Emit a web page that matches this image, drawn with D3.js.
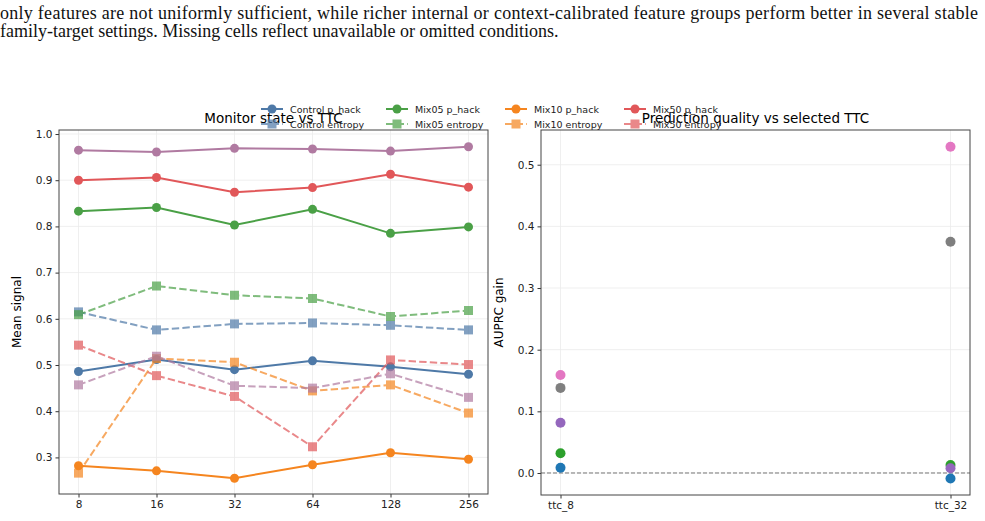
<!DOCTYPE html>
<html>
<head>
<meta charset="utf-8">
<script src="https://cdn.jsdelivr.net/npm/d3@7"></script>
<style>
  body { margin: 0; background: #fff; }
  svg text { font-family: "DejaVu Sans", sans-serif; }
  .caption { font-family: "Liberation Serif", "Times New Roman", serif !important; font-size: 18px; fill: #111; }
  .grid line { stroke: #ebebeb; stroke-width: 0.8; }
  .axis text { font-size: 10.5px; fill: #222; }
  .axis path, .axis line { stroke: #333; }
</style>
</head>
<body>
<div id="chart"></div>
<script>
// ---- data ----
var ttcValues = [8, 16, 32, 64, 128, 256];

var controlPhack  = [0.486, 0.512, 0.490, 0.509, 0.496, 0.480];
var controlEntropy = [0.615, 0.576, 0.589, 0.591, 0.586, 0.576];
var mix05Phack    = [0.833, 0.841, 0.803, 0.837, 0.785, 0.799];
var mix05Entropy  = [0.609, 0.671, 0.651, 0.644, 0.605, 0.618];
var mix10Phack    = [0.282, 0.271, 0.255, 0.284, 0.310, 0.296];
var mix10Entropy  = [0.266, 0.514, 0.506, 0.444, 0.457, 0.396];
var mix50Phack    = [0.900, 0.906, 0.874, 0.884, 0.913, 0.885];
var mix50Entropy  = [0.543, 0.477, 0.432, 0.323, 0.511, 0.501];
var otherPhack    = [0.965, 0.961, 0.969, 0.9675, 0.963, 0.9725];
var otherEntropy  = [0.457, 0.519, 0.455, 0.450, 0.481, 0.430];

var ttcCategories = ["ttc_8", "ttc_32"];
var gainBlue   = [0.0086, -0.009];
var gainGreen  = [0.032, 0.013];
var gainPurple = [0.0815, 0.0076];
var gainGray   = [0.138, 0.375];
var gainPink   = [0.159, 0.529];

var leftTicks = [0.3, 0.4, 0.5, 0.6, 0.7, 0.8, 0.9, 1.0];
var rightTicks = [0.0, 0.1, 0.2, 0.3, 0.4, 0.5];

var captionLines = [
  "only features are not uniformly sufficient, while richer internal or context-calibrated feature groups perform better in several stable",
  "family-target settings. Missing cells reflect unavailable or omitted conditions."
];

// series setup
var lineSeries = [
  { name: "Control p_hack", values: controlPhack, color: "#4e79a7", dash: false, legend: true },
  { name: "Control entropy", values: controlEntropy, color: "#4e79a7", dash: true, legend: true },
  { name: "Mix05 p_hack", values: mix05Phack, color: "#4aa046", dash: false, legend: true },
  { name: "Mix05 entropy", values: mix05Entropy, color: "#4aa046", dash: true, legend: true },
  { name: "Mix10 p_hack", values: mix10Phack, color: "#f5851f", dash: false, legend: true },
  { name: "Mix10 entropy", values: mix10Entropy, color: "#f5851f", dash: true, legend: true },
  { name: "Mix50 p_hack", values: mix50Phack, color: "#e15759", dash: false, legend: true },
  { name: "Mix50 entropy", values: mix50Entropy, color: "#e15759", dash: true, legend: true },
  { name: "Other p_hack", values: otherPhack, color: "#b07aa1", dash: false, legend: false },
  { name: "Other entropy", values: otherEntropy, color: "#b07aa1", dash: true, legend: false }
];

var gainSeries = [
  { values: gainBlue, color: "#1f77b4" },
  { values: gainGreen, color: "#2ca02c" },
  { values: gainPurple, color: "#9467bd" },
  { values: gainGray, color: "#7f7f7f" },
  { values: gainPink, color: "#e377c2" }
];

var svgWidth = 985;
var svgHeight = 521;

var svg = d3.select("#chart")
  .append("svg")
  .attr("width", svgWidth)
  .attr("height", svgHeight);

// caption text at top
svg.append("text")
  .attr("class", "caption")
  .attr("x", 0)
  .attr("y", 19)
  .attr("textLength", 978)
  .attr("lengthAdjust", "spacing")
  .text(captionLines[0]);

svg.append("text")
  .attr("class", "caption")
  .attr("x", 0)
  .attr("y", 37)
  .text(captionLines[1]);

// ---- left panel ----
var left = { x0: 59, x1: 488, y0: 130, y1: 494 };

var xLog = d3.scaleLog().base(2)
  .domain([Math.pow(2, 2.75), Math.pow(2, 8.25)])
  .range([left.x0, left.x1]);

var yLeft = d3.scaleLinear()
  .domain([0.2208, 1.0087])
  .range([left.y1, left.y0]);

var leftG = svg.append("g");

// grid
leftG.append("g").attr("class", "grid")
  .selectAll("line.gy").data(leftTicks).enter().append("line")
  .attr("x1", left.x0).attr("x2", left.x1)
  .attr("y1", d => yLeft(d)).attr("y2", d => yLeft(d));
leftG.append("g").attr("class", "grid")
  .selectAll("line.gx").data(ttcValues).enter().append("line")
  .attr("x1", d => xLog(d)).attr("x2", d => xLog(d))
  .attr("y1", left.y0).attr("y2", left.y1);

var line = d3.line()
  .x((d, i) => xLog(ttcValues[i]))
  .y(d => yLeft(d));

lineSeries.forEach(function(s) {
  var g = leftG.append("g").attr("opacity", s.dash ? 0.7 : 1);
  g.append("path")
    .attr("d", line(s.values))
    .attr("fill", "none")
    .attr("stroke", s.color)
    .attr("stroke-width", 2)
    .attr("stroke-dasharray", s.dash ? "7.4,3.2" : null);
  if (s.dash) {
    g.selectAll("rect").data(s.values).enter().append("rect")
      .attr("x", (d, i) => xLog(ttcValues[i]) - 4.5)
      .attr("y", d => yLeft(d) - 4.5)
      .attr("width", 9).attr("height", 9)
      .attr("fill", s.color);
  } else {
    g.selectAll("circle").data(s.values).enter().append("circle")
      .attr("cx", (d, i) => xLog(ttcValues[i]))
      .attr("cy", d => yLeft(d))
      .attr("r", 4.5)
      .attr("fill", s.color);
  }
});

// axes
leftG.append("g").attr("class", "axis")
  .attr("transform", `translate(0, ${left.y1})`)
  .call(d3.axisBottom(xLog).tickValues(ttcValues).tickFormat(d3.format("d")).tickSize(3.5).tickSizeOuter(0))
  .call(g => g.select(".domain").remove());
leftG.append("g").attr("class", "axis")
  .attr("transform", `translate(${left.x0}, 0)`)
  .call(d3.axisLeft(yLeft).tickValues(leftTicks).tickFormat(d3.format(".1f")).tickSize(3.5).tickSizeOuter(0))
  .call(g => g.select(".domain").remove());

leftG.append("rect")
  .attr("x", left.x0).attr("y", left.y0)
  .attr("width", left.x1 - left.x0).attr("height", left.y1 - left.y0)
  .attr("fill", "none").attr("stroke", "#444").attr("stroke-width", 1);

leftG.append("text")
  .attr("transform", `translate(21, ${(left.y0 + left.y1) / 2}) rotate(-90)`)
  .style("text-anchor", "middle")
  .style("font-size", "12px")
  .text("Mean signal");

leftG.append("text")
  .attr("x", (left.x0 + left.x1) / 2)
  .attr("y", 123)
  .style("text-anchor", "middle")
  .style("font-size", "13.5px")
  .text("Monitor state vs TTC");

// ---- right panel ----
var right = { x0: 541, x1: 970, y0: 130, y1: 495 };

var xCat = d3.scaleLinear().domain([-0.05, 1.05]).range([right.x0, right.x1]);
var yRight = d3.scaleLinear().domain([-0.0357, 0.5563]).range([right.y1, right.y0]);

var rightG = svg.append("g");

rightG.append("g").attr("class", "grid")
  .selectAll("line").data(rightTicks).enter().append("line")
  .attr("x1", right.x0).attr("x2", right.x1)
  .attr("y1", d => yRight(d)).attr("y2", d => yRight(d));
rightG.append("g").attr("class", "grid")
  .selectAll("line").data(ttcCategories).enter().append("line")
  .attr("x1", (d, i) => xCat(i)).attr("x2", (d, i) => xCat(i))
  .attr("y1", right.y0).attr("y2", right.y1);

rightG.append("line")
  .attr("x1", right.x0).attr("x2", right.x1)
  .attr("y1", yRight(0)).attr("y2", yRight(0))
  .attr("stroke", "#777").attr("stroke-width", 1)
  .attr("stroke-dasharray", "4,2");

gainSeries.forEach(function(s) {
  rightG.append("g").selectAll("circle").data(s.values).enter().append("circle")
    .attr("cx", (d, i) => xCat(i))
    .attr("cy", d => yRight(d))
    .attr("r", 5)
    .attr("fill", s.color);
});

rightG.append("g").attr("class", "axis")
  .attr("transform", `translate(0, ${right.y1})`)
  .call(d3.axisBottom(xCat).tickValues([0, 1]).tickFormat(i => ttcCategories[i]).tickSize(3.5).tickSizeOuter(0))
  .call(g => g.select(".domain").remove());
rightG.append("g").attr("class", "axis")
  .attr("transform", `translate(${right.x0}, 0)`)
  .call(d3.axisLeft(yRight).tickValues(rightTicks).tickFormat(d3.format(".1f")).tickSize(3.5).tickSizeOuter(0))
  .call(g => g.select(".domain").remove());

rightG.append("rect")
  .attr("x", right.x0).attr("y", right.y0)
  .attr("width", right.x1 - right.x0).attr("height", right.y1 - right.y0)
  .attr("fill", "none").attr("stroke", "#444").attr("stroke-width", 1);

rightG.append("text")
  .attr("transform", `translate(503, ${(right.y0 + right.y1) / 2}) rotate(-90)`)
  .style("text-anchor", "middle")
  .style("font-size", "12px")
  .text("AUPRC gain");

rightG.append("text")
  .attr("x", (right.x0 + right.x1) / 2)
  .attr("y", 123)
  .style("text-anchor", "middle")
  .style("font-size", "13.5px")
  .text("Prediction quality vs selected TTC");

// ---- legend (4 columns, 2 rows, overlapping titles) ----
var legendItems = lineSeries.filter(s => s.legend);
var colX = [261, 386, 505, 624];
var rowY = [109, 124];

var legend = svg.append("g");
legendItems.forEach(function(s, i) {
  var cx = colX[Math.floor(i / 2)];
  var cy = rowY[i % 2];
  var item = legend.append("g").attr("opacity", s.dash ? 0.7 : 1);
  item.append("line")
    .attr("x1", cx).attr("x2", cx + 22)
    .attr("y1", cy).attr("y2", cy)
    .attr("stroke", s.color).attr("stroke-width", 2)
    .attr("stroke-dasharray", s.dash ? "7.4,3.2" : null);
  if (s.dash) {
    item.append("rect")
      .attr("x", cx + 11 - 4.5).attr("y", cy - 4.5)
      .attr("width", 9).attr("height", 9)
      .attr("fill", s.color);
  } else {
    item.append("circle")
      .attr("cx", cx + 11).attr("cy", cy).attr("r", 4.5)
      .attr("fill", s.color);
  }
  legend.append("text")
    .attr("x", cx + 29)
    .attr("y", cy + 3.5)
    .style("font-size", "9.5px")
    .style("fill", "#222")
    .text(s.name);
});
</script>
</body>
</html>
